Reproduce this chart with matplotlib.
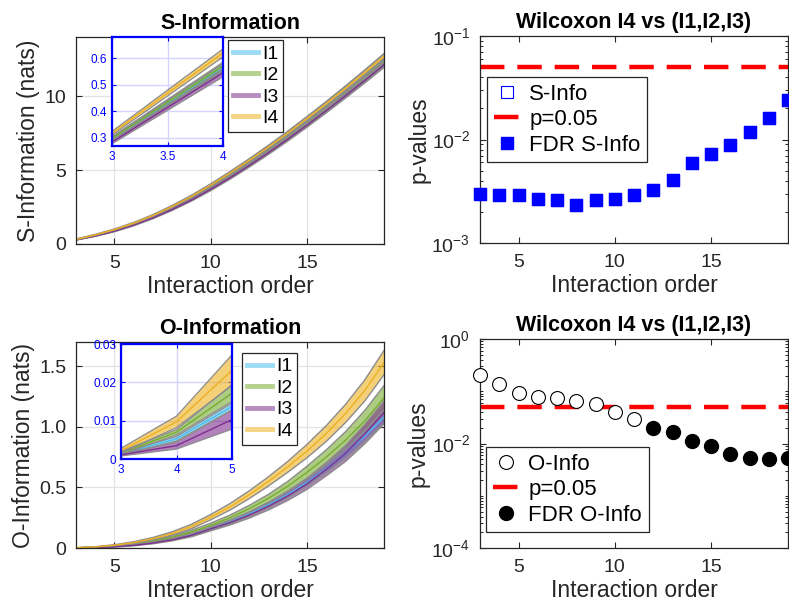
import matplotlib
matplotlib.use("Agg")
import matplotlib.pyplot as plt
import numpy as np
from matplotlib.lines import Line2D
from matplotlib.ticker import LogLocator, NullFormatter, FixedLocator

plt.rcParams['font.family'] = ['Liberation Sans', 'DejaVu Sans']
plt.rcParams['mathtext.fontset'] = 'custom'
plt.rcParams['mathtext.rm'] = 'Liberation Sans'
plt.rcParams['mathtext.it'] = 'Liberation Sans'
plt.rcParams['mathtext.default'] = 'regular'

# interaction orders
orders = np.arange(3, 20)

# S-information: mean and spread per group
s_I1 = [0.295, 0.565, 0.90, 1.32, 1.82, 2.40, 3.05, 3.78, 4.57, 5.41, 6.29, 7.20, 8.15, 9.14, 10.16, 11.20, 12.28]
s_I2 = [0.298, 0.570, 0.91, 1.33, 1.83, 2.41, 3.07, 3.80, 4.59, 5.43, 6.31, 7.23, 8.19, 9.18, 10.20, 11.25, 12.33]
s_I3 = [0.285, 0.545, 0.87, 1.28, 1.77, 2.34, 2.98, 3.70, 4.48, 5.31, 6.18, 7.09, 8.04, 9.02, 10.03, 11.06, 12.12]
s_I4 = [0.318, 0.620, 0.98, 1.41, 1.93, 2.54, 3.22, 3.98, 4.80, 5.66, 6.56, 7.50, 8.48, 9.49, 10.53, 11.60, 12.70]
s_err = [0.007, 0.015, 0.025, 0.035, 0.045, 0.055, 0.065, 0.075, 0.085, 0.095, 0.105, 0.115, 0.125, 0.135, 0.145, 0.155, 0.165]

# O-information: mean and spread per group
o_I1 = [0.0013, 0.0053, 0.0137, 0.027, 0.047, 0.075, 0.112, 0.16, 0.215, 0.28, 0.355, 0.44, 0.54, 0.655, 0.78, 0.925, 1.08]
o_I2 = [0.0016, 0.0070, 0.0172, 0.034, 0.058, 0.09, 0.133, 0.187, 0.25, 0.325, 0.41, 0.51, 0.625, 0.75, 0.89, 1.05, 1.24]
o_I3 = [0.0011, 0.0035, 0.0103, 0.022, 0.041, 0.068, 0.105, 0.158, 0.21, 0.272, 0.345, 0.43, 0.53, 0.65, 0.78, 0.94, 1.12]
o_I4 = [0.0022, 0.0097, 0.0232, 0.045, 0.077, 0.12, 0.178, 0.255, 0.34, 0.44, 0.55, 0.67, 0.80, 0.945, 1.11, 1.30, 1.53]
o_err1 = [0.0003, 0.0006, 0.0009, 0.002, 0.004, 0.006, 0.008, 0.010, 0.013, 0.016, 0.020, 0.024, 0.028, 0.033, 0.038, 0.044, 0.050]
o_err2 = [0.0004, 0.0007, 0.0022, 0.004, 0.007, 0.010, 0.014, 0.018, 0.022, 0.027, 0.033, 0.040, 0.050, 0.060, 0.070, 0.085, 0.100]
o_err3 = [0.0003, 0.0009, 0.0025, 0.004, 0.006, 0.009, 0.012, 0.016, 0.020, 0.025, 0.031, 0.038, 0.046, 0.055, 0.066, 0.080, 0.095]
o_err4 = [0.0006, 0.0015, 0.0040, 0.007, 0.010, 0.014, 0.018, 0.022, 0.027, 0.032, 0.038, 0.045, 0.055, 0.065, 0.075, 0.087, 0.100]

# Wilcoxon p-values I4 vs (I1,I2,I3) and FDR-significant flags
p_s = [0.00296, 0.00289, 0.00289, 0.00265, 0.00259, 0.00235, 0.00259, 0.00265, 0.00289,
       0.00323, 0.00404, 0.00599, 0.00721, 0.00881, 0.01178, 0.0162, 0.024]
fdr_s = [1, 1, 1, 1, 1, 1, 1, 1, 1, 1, 1, 1, 1, 1, 1, 1, 1]
p_o = [0.206, 0.137, 0.0946, 0.0793, 0.0736, 0.0655, 0.0573, 0.0397, 0.0295,
       0.0201, 0.0164, 0.0112, 0.0091, 0.0062, 0.0054, 0.0050, 0.0052]
fdr_o = [0, 0, 0, 0, 0, 0, 0, 0, 0, 1, 1, 1, 1, 1, 1, 1, 1]
alpha_level = 0.05

groups = ["I1", "I2", "I3", "I4"]
line_cols = ['#4DBEEE', '#77AC30', '#7E2F8E', '#EDB120']
txt = '#262626'

TICK_FS = 14
LABEL_FS = 16.5
TITLE_FS = 15.5


def style_ax(ax, grid=True):
    ax.tick_params(direction='in', length=4, top=True, right=True, labelsize=TICK_FS,
                   colors=txt, width=0.8)
    ax.tick_params(axis='x', pad=8)
    ax.tick_params(axis='y', pad=7)
    ax.tick_params(which='minor', direction='in', length=2.5, top=False, right=True, width=0.6)
    for sp in ax.spines.values():
        sp.set_color(txt)
        sp.set_linewidth(0.9)
    if grid:
        ax.grid(True, color='#e3e3e3', lw=0.9)
        ax.set_axisbelow(True)


def bands(ax, means, errs, lw_edge=1.0):
    for m, e, c in zip(means, errs, line_cols):
        m = np.array(m)
        e = np.array(e)
        ax.fill_between(orders, m - e, m + e, facecolor=c, alpha=0.6, edgecolor='none')
        ax.plot(orders, m - e, color='#8c8c8c', lw=lw_edge)
        ax.plot(orders, m + e, color='#8c8c8c', lw=lw_edge)
        ax.plot(orders, m, color=c, lw=1.0)


def info_legend(ax, anchor):
    handles = [Line2D([], [], color=c, alpha=0.55, lw=3.5) for c in line_cols]
    leg = ax.legend(handles, groups, loc='upper left', bbox_to_anchor=anchor,
                    bbox_transform=fig.transFigure, fontsize=14, handlelength=1.3,
                    handletextpad=0.2, borderpad=0.25, labelspacing=0.2,
                    fancybox=False, framealpha=1, edgecolor=txt, borderaxespad=0)
    leg.get_frame().set_linewidth(0.9)
    leg.set_zorder(20)


def p_legend(ax, anchor):
    leg = ax.legend(loc='upper left', bbox_to_anchor=anchor, bbox_transform=fig.transFigure,
                    fontsize=16, handlelength=1.2, handletextpad=0.4, borderpad=0.3,
                    labelspacing=0.2, fancybox=False, framealpha=1, edgecolor=txt,
                    borderaxespad=0)
    leg.get_frame().set_linewidth(0.9)


def inset_style(ax):
    ax.tick_params(direction='in', length=3, top=True, right=True, labelsize=8.5,
                   colors='#0000ff', width=0.8)
    for sp in ax.spines.values():
        sp.set_color('#0000ff')
        sp.set_linewidth(1.6)
    ax.grid(True, color='#d4d4ff', lw=1.0)
    ax.set_axisbelow(True)


fig = plt.figure(figsize=(7.89, 6.10), dpi=100)

# ---------- S-Information ----------
ax1 = fig.add_axes([0.0963, 0.600, 0.3904, 0.3393])
bands(ax1, [s_I1, s_I2, s_I3, s_I4], [s_err] * 4, lw_edge=1.3)
ax1.set_xlim(3, 19)
ax1.set_ylim(0, 14)
ax1.set_xticks([5, 10, 15])
ax1.set_yticks([0, 5, 10])
style_ax(ax1)
ax1.set_title("S-Information", fontsize=TITLE_FS, fontweight='bold', pad=6)
ax1.set_xlabel("Interaction order", fontsize=LABEL_FS, color=txt, labelpad=2)
ax1.set_ylabel("S-Information (nats)", fontsize=LABEL_FS, color=txt, labelpad=3)
info_legend(ax1, (0.289, 0.934))

ins1 = fig.add_axes([0.142, 0.7607, 0.1407, 0.1787])
bands(ins1, [s_I1, s_I2, s_I3, s_I4], [s_err] * 4, lw_edge=0.9)
ins1.set_xlim(3, 4)
ins1.set_ylim(0.27, 0.68)
ins1.set_xticks([3, 3.5, 4])
ins1.set_xticklabels(['3', '3.5', '4'])
ins1.set_yticks([0.3, 0.4, 0.5, 0.6])
inset_style(ins1)

# ---------- O-Information ----------
ax3 = fig.add_axes([0.0963, 0.1016, 0.3904, 0.3377])
bands(ax3, [o_I1, o_I2, o_I3, o_I4], [o_err1, o_err2, o_err3, o_err4], lw_edge=1.0)
ax3.set_xlim(3, 19)
ax3.set_ylim(0, 1.7)
ax3.set_xticks([5, 10, 15])
ax3.set_yticks([0, 0.5, 1.0, 1.5])
ax3.set_yticklabels(['0', '0.5', '1.0', '1.5'])
style_ax(ax3)
ax3.set_title("O-Information", fontsize=TITLE_FS, fontweight='bold', pad=6)
ax3.set_xlabel("Interaction order", fontsize=LABEL_FS, color=txt, labelpad=2)
ax3.set_ylabel("O-Information (nats)", fontsize=LABEL_FS, color=txt, labelpad=3)
info_legend(ax3, (0.3067, 0.4213))

ins3 = fig.add_axes([0.1534, 0.2475, 0.1407, 0.1885])
bands(ins3, [o_I1, o_I2, o_I3, o_I4], [o_err1, o_err2, o_err3, o_err4], lw_edge=0.9)
ins3.set_xlim(3, 5)
ins3.set_ylim(0, 0.03)
ins3.set_xticks([3, 4, 5])
ins3.set_yticks([0, 0.01, 0.02, 0.03])
ins3.set_yticklabels(['0', '0.01', '0.02', '0.03'])
inset_style(ins3)

# ---------- Wilcoxon S ----------
ax2 = fig.add_axes([0.6084, 0.6016, 0.3904, 0.3393])
p_s_arr = np.array(p_s)
sig_s = np.array(fdr_s, dtype=bool)
ax2.plot(orders, p_s_arr, 's', ms=8.5, mfc='white', mec='#0000ff', mew=0.8,
         clip_on=False, zorder=3, label='S-Info')
ax2.axhline(alpha_level, color='#ff0000', lw=3.2, dashes=(5.5, 2.9), label='p=0.05')
ax2.plot(orders[sig_s], p_s_arr[sig_s], 's', ms=8.5, mfc='#0000ff', mec='#0000ff',
         clip_on=False, zorder=4, label='FDR S-Info')
ax2.set_yscale('log')
ax2.set_xlim(3, 19)
ax2.set_ylim(1e-3, 1e-1)
ax2.set_xticks([5, 10, 15])
ax2.yaxis.set_major_locator(FixedLocator([1e-3, 1e-2, 1e-1]))
ax2.set_yticklabels(['$10^{-3}$', '$10^{-2}$', '$10^{-1}$'])
ax2.yaxis.set_minor_locator(LogLocator(base=10, subs=np.arange(2, 10), numticks=20))
ax2.yaxis.set_minor_formatter(NullFormatter())
style_ax(ax2, grid=False)
ax2.set_title("Wilcoxon I4 vs (I1,I2,I3)", fontsize=TITLE_FS, fontweight='bold', pad=6)
ax2.set_xlabel("Interaction order", fontsize=LABEL_FS, color=txt, labelpad=2)
ax2.set_ylabel("p-values", fontsize=LABEL_FS, color=txt, labelpad=1)
p_legend(ax2, (0.6172, 0.8738))

# ---------- Wilcoxon O ----------
ax4 = fig.add_axes([0.6084, 0.1016, 0.3904, 0.3426])
p_o_arr = np.array(p_o)
sig_o = np.array(fdr_o, dtype=bool)
ax4.plot(orders[~sig_o], p_o_arr[~sig_o], 'o', ms=10, mfc='white', mec='black', mew=0.8,
         clip_on=False, zorder=3, label='O-Info')
ax4.axhline(alpha_level, color='#ff0000', lw=3.2, dashes=(5.5, 2.9), label='p=0.05')
ax4.plot(orders[sig_o], p_o_arr[sig_o], 'o', ms=10, mfc='black', mec='black',
         clip_on=False, zorder=4, label='FDR O-Info')
ax4.set_yscale('log')
ax4.set_xlim(3, 19)
ax4.set_ylim(1e-4, 1e0)
ax4.set_xticks([5, 10, 15])
ax4.yaxis.set_major_locator(FixedLocator([1e-4, 1e-2, 1e0]))
ax4.set_yticklabels(['$10^{-4}$', '$10^{-2}$', '$10^{0}$'])
ax4.yaxis.set_minor_locator(LogLocator(base=10, subs=np.arange(1, 10), numticks=20))
ax4.yaxis.set_minor_formatter(NullFormatter())
style_ax(ax4, grid=False)
ax4.set_title("Wilcoxon I4 vs (I1,I2,I3)", fontsize=TITLE_FS, fontweight='bold', pad=6)
ax4.set_xlabel("Interaction order", fontsize=LABEL_FS, color=txt, labelpad=2)
ax4.set_ylabel("p-values", fontsize=LABEL_FS, color=txt, labelpad=1)
p_legend(ax4, (0.616, 0.267))

fig.savefig("out.png", dpi=100)
